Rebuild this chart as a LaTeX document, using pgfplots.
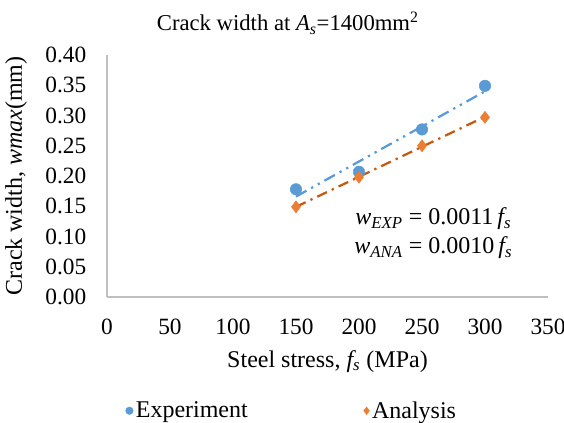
\documentclass[border=0pt]{standalone}
\usepackage{fontspec}
\setmainfont{Liberation Serif}
\usepackage{pgfplots}
\pgfplotsset{compat=1.18}
\definecolor{expblue}{HTML}{5B9BD5}
\definecolor{anaorange}{HTML}{ED7D31}
\definecolor{trendorange}{HTML}{C55A11}
\definecolor{axisgray}{HTML}{BFBFBF}
\begin{document}
\begin{tikzpicture}
\path[use as bounding box] (0pt,0pt) rectangle (423pt,316.5pt);
\begin{axis}[
    at={(80.25pt,93.75pt)}, anchor=south west,
    scale only axis,
    width=330.75pt, height=181.5pt,
    xmin=0, xmax=350, ymin=0, ymax=0.40,
    xtick={0,50,...,350}, ytick={0,0.05,...,0.40},
    tick style={draw=none},
    axis x line*=bottom, axis y line*=left,
    axis line style={axisgray, line width=0.9pt, -},
    yticklabel style={/pgf/number format/fixed,
        /pgf/number format/fixed zerofill,
        /pgf/number format/precision=2, xshift=-12pt},
    /pgf/number format/assume math mode=true,
    tick label style={font=\fontsize{17.5}{19}\selectfont},
    xticklabel style={yshift=-13pt},
    xlabel={Steel stress, \textit{f\textsubscript{s}} (MPa)},
    ylabel={Crack width, \textit{wmax}(mm)},
    label style={font=\fontsize{18}{20}\selectfont},
    xlabel style={yshift=-5pt},
    ylabel style={yshift=7pt},
    title={Crack width at \textit{A\textsubscript{s}}=1400mm\textsuperscript{2}},
    title style={font=\fontsize{17}{19}\selectfont, at={(0.41,1)}, anchor=south, yshift=6pt},
    clip=false,
    legend columns=2,
    legend style={draw=none, at={(0.42,-0.47)}, anchor=center,
        font=\fontsize{18}{20}\selectfont,
        /tikz/every even column/.append style={column sep=85pt}},
    legend image code/.code={\draw[#1, mark size=2.8pt] plot coordinates {(0pt,0pt)};},
]
\addplot[only marks, mark=*, mark size=4.3pt, color=expblue] coordinates {
    (150,0.178) (200,0.207) (250,0.277) (300,0.349)
};
\addlegendentry{Experiment}
\addplot[only marks, mark=diamond*, mark size=4.5pt, color=anaorange] coordinates {
    (150,0.149) (200,0.198) (250,0.250) (300,0.297)
};
\addlegendentry{Analysis}
\addplot[forget plot, expblue, line width=1.7pt,
    dash pattern=on 9pt off 4pt on 1.7pt off 4pt on 1.7pt off 4pt] coordinates {
    (150,0.166) (300,0.340)
};
\addplot[forget plot, trendorange, line width=1.7pt,
    dash pattern=on 8pt off 4pt on 1.7pt off 4pt] coordinates {
    (150,0.149) (300,0.298)
};
\node[anchor=center, font=\fontsize{18}{20}\selectfont] at (axis cs:259,0.129)
    {\textit{w\textsubscript{EXP}} = 0.0011\,\textit{f\textsubscript{s}}};
\node[anchor=center, font=\fontsize{18}{20}\selectfont] at (axis cs:259,0.081)
    {\textit{w\textsubscript{ANA}} = 0.0010\,\textit{f\textsubscript{s}}};
\end{axis}
\end{tikzpicture}
\end{document}
